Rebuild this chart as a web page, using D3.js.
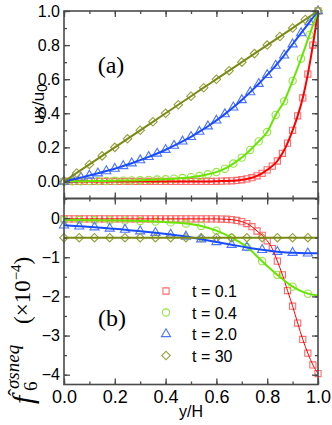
<!DOCTYPE html>
<html>
<head>
<meta charset="utf-8">
<script src="https://cdn.jsdelivr.net/npm/d3@7"></script>
<style>
body { margin: 0; background: #fff; }
svg { display: block; }
</style>
</head>
<body>
<svg width="332" height="425"></svg>
<script>
// ---- data ----
var tLabels = ["t = 0.1", "t = 0.4", "t = 2.0", "t = 30"];

// panel (a): ux/u0 against y/H
var aRed = [0,0,0,0,0,0,0,0,0,0, 0,0,0,0,0,0,0,0,0,0, 0,0,0,0,0,0,0,0,0,0,
  0.001,0.002,0.003,0.004,0.006,0.01,0.015,0.022,0.033,0.048,0.068,0.09,0.12,0.165,0.225,0.3,0.385,0.49,0.63,0.8,1.0];
var aGreen = [0,0.001,0.001,0.002,0.002,0.003,0.004,0.005,0.006,0.007,0.009,0.011,0.013,0.016,0.02,0.025,
  0.032,0.042,0.055,0.075,0.105,0.14,0.185,0.235,0.29,0.39,0.47,0.59,0.72,0.86,1.0];
var aBlue = [0,0.011,0.023,0.035,0.048,0.061,0.075,0.091,0.107,0.125,0.144,0.164,0.186,0.21,0.235,0.262,
  0.292,0.324,0.358,0.395,0.435,0.478,0.524,0.573,0.625,0.68,0.74,0.805,0.87,0.935,1.0];
var aOlive = [0,0.05,0.1,0.15,0.2,0.25,0.3,0.35,0.4,0.45,0.5,0.55,0.6,0.65,0.7,0.75,0.8,0.85,0.9,0.95,1.0];

// panel (b): f6 (x 1e-4) against y/H
var bRed = [-0.02,-0.02,-0.02,-0.02,-0.02,-0.02,-0.02,-0.02,-0.02,-0.02,-0.02,-0.02,-0.02,-0.02,-0.02,-0.02,
  -0.02,-0.02,-0.02,-0.02,-0.02,-0.02,-0.02,-0.02,-0.02,-0.02,-0.02,-0.02,-0.02,-0.02,-0.02,
  -0.025,-0.03,-0.04,-0.06,-0.09,-0.14,-0.22,-0.33,-0.44,-0.58,-0.78,-1.1,-1.45,-1.85,-2.25,-2.68,-3.1,-3.45,-3.75,-3.97];
var bGreen = [-0.05,-0.05,-0.055,-0.06,-0.065,-0.075,-0.09,-0.11,-0.14,-0.2,-0.32,-0.5,-0.74,-1.1,-1.45,-1.75,-1.93];
var bBlue = [-0.185,-0.21,-0.235,-0.265,-0.295,-0.335,-0.375,-0.42,-0.47,-0.54,-0.61,-0.68,-0.75,-0.81,-0.86,-0.885,-0.9];
var bOlive = [-0.5,-0.5,-0.5,-0.5,-0.5,-0.5,-0.5,-0.5,-0.5,-0.5,-0.5,-0.5,-0.5,-0.5,-0.5,-0.5,-0.5];
var bLineEnd = [-3.97, -1.98, -0.9, -0.5];   // value of each curve at y/H = 1

var xTicks = [0, 0.2, 0.4, 0.6, 0.8, 1.0];
var aTicks = [0, 0.2, 0.4, 0.6, 0.8, 1.0];
var bTicks = [0, -1, -2, -3, -4];

// sampling grids of the markers
var gridSq = d3.range(51).map(function(i) { return i / 50; });
var gridA = d3.range(31).map(function(i) { return i / 30; });
var gridO = d3.range(21).map(function(i) { return i / 20; });
var gridB = d3.range(17).map(function(i) { return i * 0.06; });

// ---- layout ----
var svg = d3.select("svg");
var sans = "'Liberation Sans', Arial, sans-serif";
var serif = "'Liberation Serif', 'Times New Roman', serif";
var left = 64, right = 318;
var frame = "#4a4a4a";
var lineCol = ["#ff0000", "#66e600", "#1a4cff", "#7a8a14"];
var markCol = ["#ff6b6b", "#8fe83c", "#4d74ff", "#98a040"];

var x = d3.scaleLinear().domain([0, 1]).range([left, right]);
var yA = d3.scaleLinear().domain([-0.1, 1.0]).range([198.5, 11]);
var yB = d3.scaleLinear().domain([-4.25, 0.5]).range([384.5, 198.5]);

var sq = d3.symbol().type(d3.symbolSquare).size(38);
var ci = d3.symbol().type(d3.symbolCircle).size(42);
var tr = d3.symbol().type(d3.symbolTriangle).size(36);
var di = d3.symbol().type(d3.symbolSquare).size(36);
var shapes = [sq, ci, tr, di];

function frameAxes(g, y, major, minor, fmt) {
  var h = y.range();
  g.append("rect").attr("x", left).attr("y", h[1])
    .attr("width", right - left).attr("height", h[0] - h[1])
    .attr("fill", "none").attr("stroke", frame).attr("stroke-width", 1.6);

  var minorX = d3.range(0, 1.001, 0.1);
  [[d3.axisBottom, h[0]], [d3.axisTop, h[1]]].forEach(function(a) {
    g.append("g").attr("transform", "translate(0," + a[1] + ")")
      .call(a[0](x).tickValues(minorX).tickSize(-3).tickFormat("").tickSizeOuter(0));
    g.append("g").attr("transform", "translate(0," + a[1] + ")")
      .call(a[0](x).tickValues(xTicks).tickSize(-6).tickFormat("").tickSizeOuter(0));
  });
  [[d3.axisLeft, left], [d3.axisRight, right]].forEach(function(a) {
    g.append("g").attr("transform", "translate(" + a[1] + ",0)")
      .call(a[0](y).tickValues(minor).tickSize(-3).tickFormat("").tickSizeOuter(0));
  });
  g.append("g").attr("transform", "translate(" + right + ",0)")
    .call(d3.axisRight(y).tickValues(major).tickSize(-6).tickFormat("").tickSizeOuter(0));
  g.append("g").attr("transform", "translate(" + left + ",0)")
    .call(d3.axisLeft(y).tickValues(major).tickSize(-6).tickPadding(4).tickFormat(fmt).tickSizeOuter(0))
    .selectAll("text").style("font-family", sans).style("font-size", "16px").attr("fill", "#000");
  g.selectAll(".domain").remove();
  g.selectAll(".tick line").attr("stroke", frame).attr("stroke-width", 1.3);
}

function series(g, y, xs, ys, k, width) {
  var line = d3.line().x(function(d) { return x(d[0]); }).y(function(d) { return y(d[1]); })
    .curve(d3.curveMonotoneX);
  var pts = xs.map(function(v, i) { return [v, ys[i]]; });
  g.append("g").selectAll("path").data(pts).enter().append("path")
    .attr("d", shapes[k])
    .attr("transform", function(d) {
      return "translate(" + x(d[0]) + "," + y(d[1]) + ")" + (k == 3 ? " rotate(45)" : "");
    })
    .attr("fill", "none").attr("stroke", markCol[k]).attr("stroke-width", 1.1);
  return { pts: pts, line: line, width: width, k: k };
}

function drawLine(g, s, extra) {
  var pts = extra ? s.pts.concat([extra]) : s.pts;
  g.append("path").datum(pts).attr("d", s.line)
    .attr("fill", "none").attr("stroke", lineCol[s.k]).attr("stroke-width", s.width);
}

// Panel (a)
var ga = svg.append("g").attr("id", "panelA");
var sa = [
  series(ga, yA, gridSq, aRed, 0, 2),
  series(ga, yA, gridA, aGreen, 1, 2),
  series(ga, yA, gridA, aBlue, 2, 2),
  series(ga, yA, gridO, aOlive, 3, 2)
];
sa.forEach(function(s) { drawLine(ga, s); });
frameAxes(ga, yA, aTicks, d3.range(-0.1, 1.001, 0.1), d3.format(".1f"));

// Panel (b)
var gb = svg.append("g").attr("id", "panelB");
var sb = [
  series(gb, yB, gridSq, bRed, 0, 1),
  series(gb, yB, gridB, bGreen, 1, 2),
  series(gb, yB, gridB, bBlue, 2, 2),
  series(gb, yB, gridB, bOlive, 3, 2)
];
sb.forEach(function(s, i) {
  var last = s.pts[s.pts.length - 1][0];
  drawLine(gb, s, last < 0.999 ? [1, bLineEnd[i]] : null);
});
frameAxes(gb, yB, bTicks, d3.range(-4, 0.501, 0.5), d3.format("d"));

// x tick labels (bottom)
svg.append("g").attr("transform", "translate(0,384.5)")
  .call(d3.axisBottom(x).tickValues(xTicks).tickSize(0).tickPadding(6).tickFormat(d3.format(".1f")))
  .call(function(g) { g.select(".domain").remove(); })
  .selectAll("text").style("font-family", sans).style("font-size", "18px").attr("fill", "#000");

svg.append("text").text("y/H")
  .attr("x", 191).attr("y", 417).attr("text-anchor", "middle")
  .style("font-family", sans).style("font-size", "16px");

// Panel labels
svg.append("text").text("(a)").attr("x", 111).attr("y", 73).attr("text-anchor", "middle")
  .style("font-family", serif).style("font-size", "24px");
svg.append("text").text("(b)").attr("x", 112).attr("y", 326).attr("text-anchor", "middle")
  .style("font-family", serif).style("font-size", "24px");

// y title (a)
var ta = svg.append("text").attr("transform", "translate(44,104) rotate(-90)")
  .attr("text-anchor", "middle")
  .style("font-family", sans).style("font-size", "17px");
ta.append("tspan").text("ux/u");
ta.append("tspan").text("0").attr("dy", 3).style("font-size", "14px");

// y title (b)
var tb = svg.append("g").attr("transform", "translate(33,406) rotate(-90)")
  .style("font-family", serif);
tb.append("text").text("f").attr("x", 2).attr("y", 0)
  .style("font-style", "italic").style("font-size", "30px");
tb.append("text").text("\u02C6").attr("x", 10).attr("y", -10)
  .style("font-size", "22px");
tb.append("text").text("6").attr("x", 15).attr("y", 4).style("font-size", "19px");
tb.append("text").text("\u03C3sneq").attr("x", 17).attr("y", -14)
  .style("font-style", "italic").style("font-size", "19px");
var tx = tb.append("text").attr("x", 82).attr("y", -3).style("font-size", "23px");
tx.append("tspan").text("(\u00D710");
tx.append("tspan").text("\u22124").attr("dy", -9).style("font-size", "15px");
tx.append("tspan").text(")").attr("dy", 9);

// Legend
var lg = svg.append("g").attr("id", "legend");
tLabels.forEach(function(t, i) {
  var yy = 291 + i * 21.5;
  lg.append("path").attr("d", shapes[i])
    .attr("transform", "translate(166," + yy + ")" + (i == 3 ? " rotate(45)" : ""))
    .attr("fill", "none").attr("stroke", markCol[i]).attr("stroke-width", 1.1);
  lg.append("text").text(t).attr("x", 192).attr("y", yy + 6)
    .style("font-family", sans).style("font-size", "16px");
});
</script>
</body>
</html>
